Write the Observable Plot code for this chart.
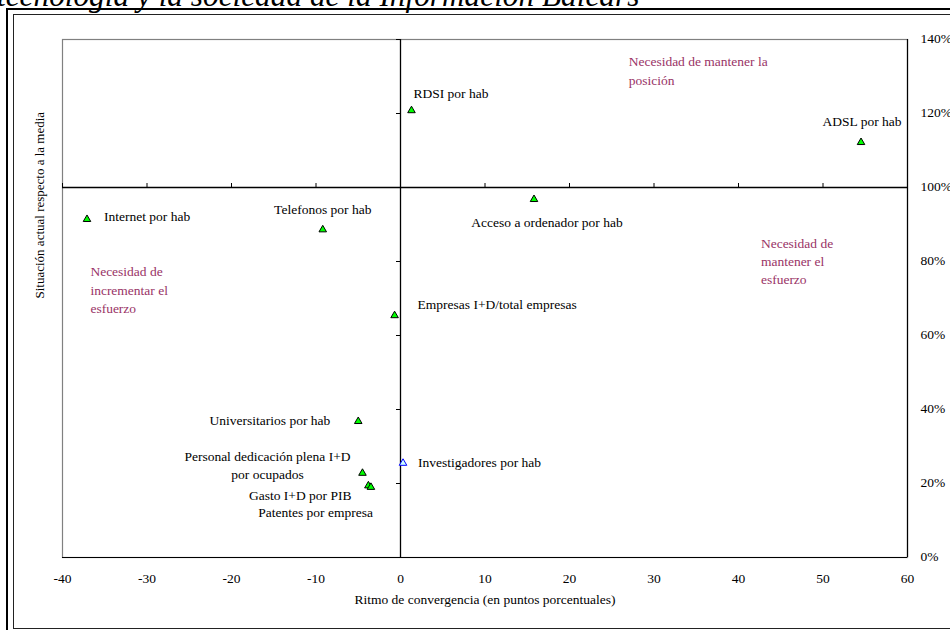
<!DOCTYPE html>
<html><head><meta charset="utf-8">
<script src="https://cdn.jsdelivr.net/npm/d3@7"></script>
<script src="https://cdn.jsdelivr.net/npm/@observablehq/plot@0.6"></script>
<style>
body{margin:0;background:#fff;overflow:hidden;}
#page{position:relative;width:950px;height:630px;overflow:hidden;background:#fff;}
#title{position:absolute;left:-3px;top:-20px;font:italic 31.3px/31.3px "Liberation Serif","Times New Roman",serif;white-space:nowrap;color:#000;}
#outer{position:absolute;left:6px;top:8px;width:1200px;height:1200px;border-left:2px solid #000;border-top:2.5px solid #000;}
#inner{position:absolute;left:12.5px;top:14px;width:1200px;height:613px;border:1.5px solid #222;}
#chart{position:absolute;left:0;top:0;}
</style></head><body>
<div id="page">
<div id="title">tecnología y la sociedad de la Información Balears</div>
<div id="outer"></div><div id="inner"></div>
<div id="chart"></div>
</div>
<script>
// ---- data ----
const names = ["RDSI por hab","ADSL por hab","Internet por hab","Telefonos por hab","Acceso a ordenador por hab",
  "Empresas I+D/total empresas","Universitarios por hab","Personal dedicación plena I+D\npor ocupados",
  "Gasto I+D por PIB","Patentes por empresa","Investigadores por hab"];
const ritmo = [1.3, 54.5, -37.1, -9.2, 15.8, -0.7, -5.0, -4.5, -3.8, -3.5, 0.3];
const situacion = [120.8, 112.2, 91.4, 88.6, 96.8, 65.4, 36.8, 22.8, 19.4, 19.0, 25.5];
const xTicks = [-40, -30, -20, -10, 0, 10, 20, 30, 40, 50, 60];
const yTicks = [0, 20, 40, 60, 80, 100, 120, 140];
const notes = ["Necesidad de mantener la\nposición", "Necesidad de\nmantener el\nesfuerzo", "Necesidad de\nincrementar el\nesfuerzo"];
const noteX = [27.0, 42.65, -36.7];
const noteY = [131.9, 80.4, 72.6];
const xTitle = "Ritmo de convergencia (en puntos porcentuales)";
const yTitle = "Situación actual respecto a la media";

const points = names.map((n, i) => ({name: n, x: ritmo[i], y: situacion[i]}));
const noteData = notes.map((t, i) => ({text: t, x: noteX[i], y: noteY[i]}));

// label placement (presentation)
const layout = {
  "RDSI por hab": ["start", 2, -18],
  "ADSL por hab": ["middle", 1, -22],
  "Internet por hab": ["start", 17, -4],
  "Telefonos por hab": ["middle", 0, -22],
  "Acceso a ordenador por hab": ["middle", 13, 22],
  "Empresas I+D/total empresas": ["start", 23, -12],
  "Universitarios por hab": ["end", -28, -2],
  "Personal dedicación plena I+D\npor ocupados": ["middle", -95, -9],
  "Gasto I+D por PIB": ["end", -17, 8],
  "Patentes por empresa": ["end", 2, 24],
  "Investigadores por hab": ["start", 15, -2]
};

const xDom = [xTicks[0], xTicks[xTicks.length - 1]];
const yDom = [yTicks[0], yTicks[yTicks.length - 1]];

const labelMarks = points.map(p => {
  const [a, dx, dy] = layout[p.name];
  return Plot.text([p], {x: "x", y: "y", text: "name", textAnchor: a, dx, dy, lineHeight: 1.36, fill: "#000"});
});

const chart = Plot.plot({
  width: 950, height: 630,
  marginLeft: 62, marginRight: 43, marginTop: 39, marginBottom: 73,
  x: {domain: xDom}, y: {domain: yDom},
  style: {fontFamily: "'Liberation Serif','Times New Roman',serif", fontSize: "13.5px", background: "transparent", color: "#000"},
  marks: [
    Plot.frame({stroke: "#808080", strokeWidth: 1.2}),
    Plot.ruleX([xDom[1]], {stroke: "#000", strokeWidth: 1.2}),
    Plot.ruleY([yDom[0]], {stroke: "#000", strokeWidth: 1.2}),
    Plot.ruleY([100], {stroke: "#000", strokeWidth: 1.3}),
    Plot.ruleX([0], {stroke: "#000", strokeWidth: 1.3}),
    Plot.ruleX(xTicks, {x: d => d, y1: 100, y2: 100, insetTop: -4, stroke: "#000"}),
    Plot.ruleY(yTicks, {y: d => d, x1: 0, x2: 0, insetLeft: -4, stroke: "#000"}),
    Plot.axisX(xTicks, {anchor: "bottom", tickSize: 0, tickPadding: 16, label: null, tickFormat: d => String(d)}),
    Plot.axisY(yTicks, {anchor: "right", tickSize: 0, tickPadding: 13, textAnchor: "start", dy: -1, label: null, tickFormat: d => d + "%"}),
    Plot.text([xTitle], {frameAnchor: "bottom", dy: 46, text: d => d, fill: "#000"}),
    Plot.text([yTitle], {frameAnchor: "left", dx: -23, rotate: -90, text: d => d, fill: "#000", fontSize: "13px"}),
    Plot.text(noteData, {x: "x", y: "y", text: "text", textAnchor: "start", lineHeight: 1.36, fill: "#993366"}),
    Plot.dot(points.filter(p => p.name !== "Investigadores por hab"), {x: "x", y: "y", symbol: "triangle", r: 2.8, fill: "#00FF00", stroke: "#000", strokeWidth: 1}),
    Plot.dot(points.filter(p => p.name === "Investigadores por hab"), {x: "x", y: "y", symbol: "triangle", r: 2.8, fill: "#CCFFFF", stroke: "#0000FF", strokeWidth: 1}),
    ...labelMarks
  ]
});
document.getElementById("chart").appendChild(chart);
</script>
</body></html>
